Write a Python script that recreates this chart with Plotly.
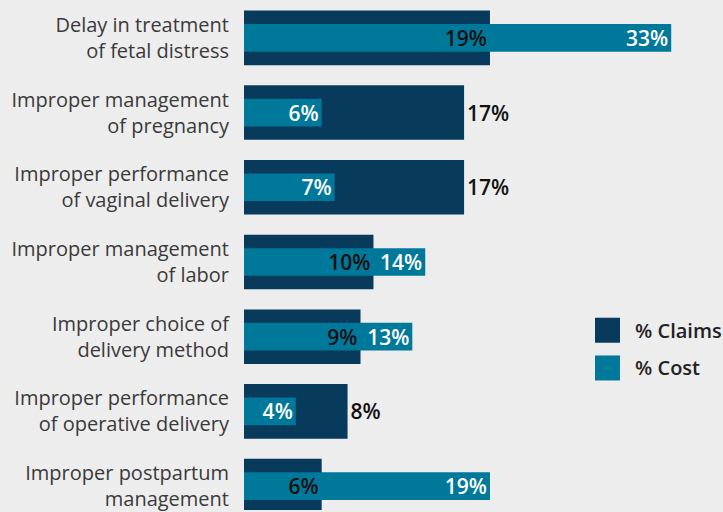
import plotly.graph_objects as go

categories = [
    "Delay in treatment<br>of fetal distress",
    "Improper management<br>of pregnancy",
    "Improper performance<br>of vaginal delivery",
    "Improper management<br>of labor",
    "Improper choice of<br>delivery method",
    "Improper performance<br>of operative delivery",
    "Improper postpartum<br>management",
]
claims = [19, 17, 17, 10, 9, 8, 6]
cost = [33, 6, 7, 14, 13, 4, 19]
series_names = ["% Claims", "% Cost"]

CLAIMS_COLOR = "#083a5c"
COST_COLOR = "#00789a"
BG = "#ededed"
FONT = "Open Sans"

claims_pos = ["inside" if c > v else "outside" for v, c in zip(claims, cost)]
label_font = dict(family=FONT, size=21, color="#111111", weight=600)

fig = go.Figure()
fig.add_trace(go.Bar(
    y=categories, x=claims, orientation="h", width=0.73,
    marker=dict(color=CLAIMS_COLOR, line=dict(width=0)),
    showlegend=False, hoverinfo="skip",
))
fig.add_trace(go.Bar(
    y=categories, x=cost, orientation="h", width=0.37,
    marker=dict(color=COST_COLOR, line=dict(width=0)),
    text=[f"{v}%" for v in cost], textposition="inside", insidetextanchor="end",
    textangle=0, constraintext="none",
    textfont=dict(family=FONT, size=21, color="white", weight=600),
    showlegend=False, hoverinfo="skip",
))
# labels for claims drawn on top of the cost bars
fig.add_trace(go.Bar(
    y=categories, x=claims, orientation="h", width=0.73,
    marker=dict(color="rgba(0,0,0,0)", line=dict(width=0)),
    text=[f"{v}%" for v in claims], textposition=claims_pos, insidetextanchor="end",
    textangle=0, constraintext="none",
    textfont=label_font, outsidetextfont=label_font, insidetextfont=label_font,
    cliponaxis=False,
    showlegend=False, hoverinfo="skip",
))

# legend drawn as shapes + text
legend_items = [(series_names[0], CLAIMS_COLOR, 0.377, 0.328), (series_names[1], COST_COLOR, 0.303, 0.254)]
shapes = []
annotations = []
for name, col, y1, y0 in legend_items:
    shapes.append(dict(type="rect", xref="paper", yref="paper", x0=0.7328, x1=0.785,
                       y0=y0, y1=y1, fillcolor=col, line=dict(width=0)))
    annotations.append(dict(xref="paper", yref="paper", x=0.812, y=(y0 + y1) / 2,
                            xanchor="left", yanchor="middle", showarrow=False,
                            text=name, font=dict(family=FONT, size=20, color="#222222", weight=600)))

fig.update_layout(
    width=723, height=512,
    margin=dict(l=244, r=0, t=0, b=0),
    paper_bgcolor=BG, plot_bgcolor=BG,
    barmode="overlay",
    shapes=shapes, annotations=annotations,
    xaxis=dict(range=[0, 37.0], visible=False, fixedrange=True),
    yaxis=dict(
        type="category", categoryorder="array", categoryarray=categories,
        range=[6.32, -0.507], showgrid=False, zeroline=False, showline=False,
        ticks="", ticklabelstandoff=14,
        tickfont=dict(family=FONT, size=20, color="#3a3a3a"),
        fixedrange=True,
    ),
)

fig.write_html(
    "out.html",
    config={"displayModeBar": False},
    post_script="document.body.style.margin='0';document.body.style.background='#ededed';document.body.style.overflow='hidden';",
)
